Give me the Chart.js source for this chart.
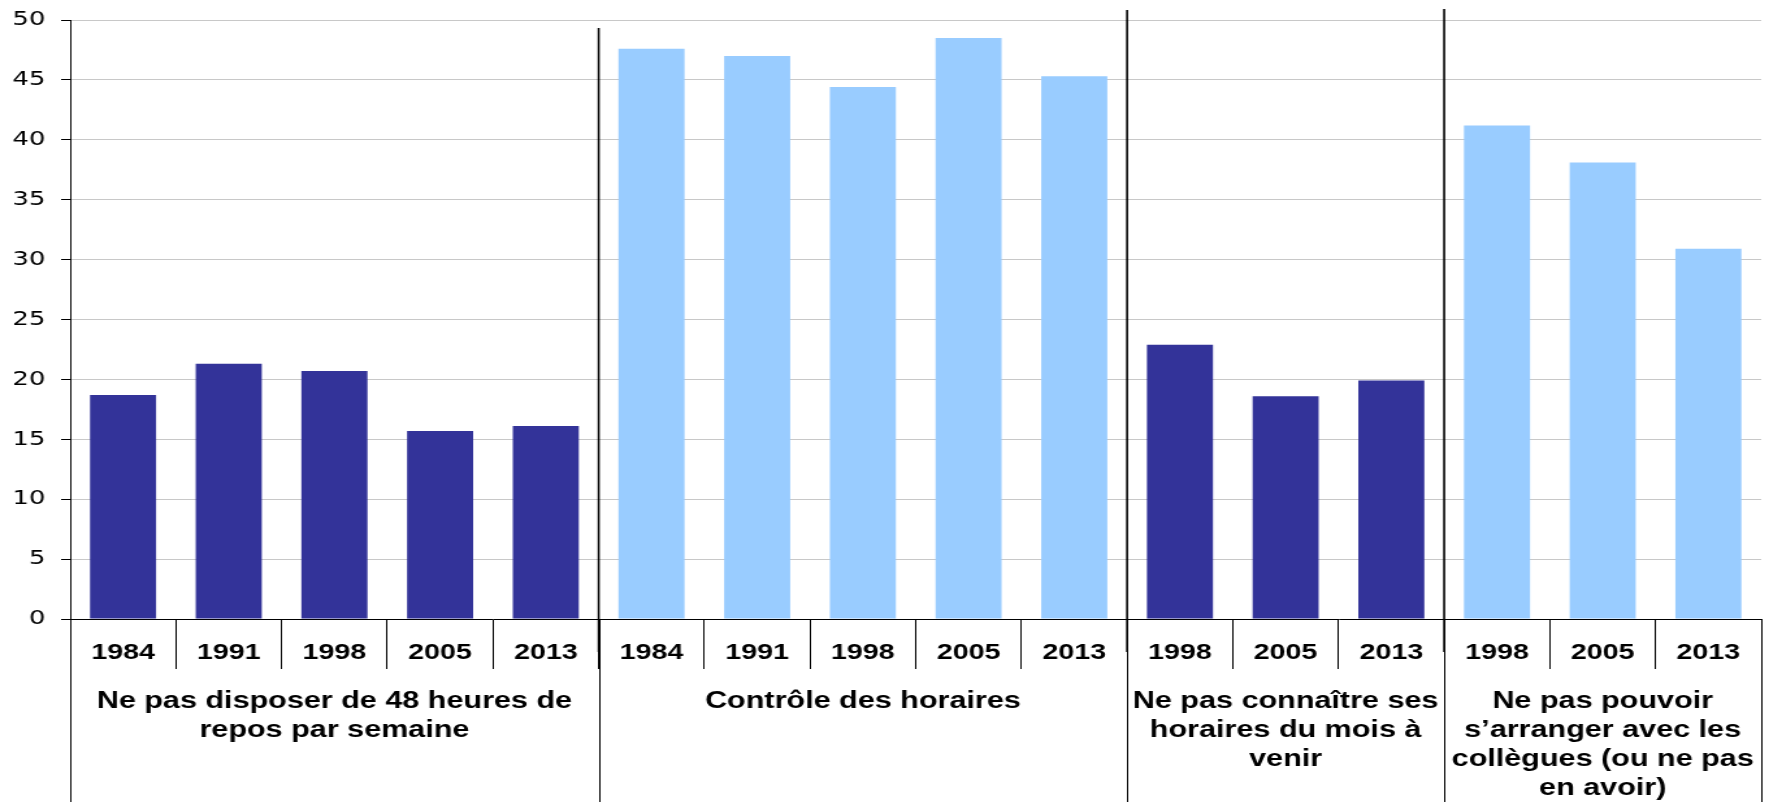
<!DOCTYPE html>
<html lang="fr">
<head>
<meta charset="utf-8">
<title>Horaires</title>
<script src="https://cdn.jsdelivr.net/npm/chart.js@4/dist/chart.umd.min.js"></script>
<style>
  html, body { margin: 0; padding: 0; background: #fff; overflow: hidden; }
  /* the reference is stretched horizontally, so the chart is drawn narrow and widened */
  #wrap { width: 1361px; height: 802px; transform: scaleX(1.2998); transform-origin: 0 0; }
</style>
</head>
<body>
<div id="wrap"><canvas id="chart"></canvas></div>
<script>
// -------------------------------------------------------------
// DATA
// -------------------------------------------------------------
const groupLabels = [
  ["Ne pas disposer de 48 heures de", "repos par semaine"],
  ["Contrôle des horaires"],
  ["Ne pas connaître ses", "horaires du mois à", "venir"],
  ["Ne pas pouvoir", "s’arranger avec les", "collègues (ou ne pas", "en avoir)"]
];
const yearsRepos = ["1984", "1991", "1998", "2005", "2013"];
const yearsControle = ["1984", "1991", "1998", "2005", "2013"];
const yearsMois = ["1998", "2005", "2013"];
const yearsCollegues = ["1998", "2005", "2013"];

const repos48h = [18.7, 21.3, 20.7, 15.7, 16.1];
const controleHoraires = [47.6, 47.0, 44.4, 48.5, 45.3];
const horairesMois = [22.9, 18.6, 19.9];
const arrangerCollegues = [41.2, 38.1, 30.9];

const yMin = 0, yMax = 50, yStep = 5;

const NAVY = "#333399";
const LIGHT = "#99CCFF";

// -------------------------------------------------------------
// BUILD
// -------------------------------------------------------------
const groups = [
  { years: yearsRepos, values: repos48h, color: NAVY },
  { years: yearsControle, values: controleHoraires, color: LIGHT },
  { years: yearsMois, values: horairesMois, color: NAVY },
  { years: yearsCollegues, values: arrangerCollegues, color: LIGHT }
];
const labels = groups.flatMap(g => g.years);
const values = groups.flatMap(g => g.values);
const colors = groups.flatMap(g => g.years.map(() => g.color));
const groupSizes = groups.map(g => g.years.length);

// -------------------------------------------------------------
// GROUP DIVIDERS + GROUP LABELS
// -------------------------------------------------------------
const groupPlugin = {
  id: "groups",
  afterDraw(chart) {
    const { ctx, chartArea, scales: { x } } = chart;
    const n = labels.length;
    const edge = i => {
      if (i === 0) return chartArea.left;
      if (i === n) return chartArea.right;
      return (x.getPixelForValue(i - 1) + x.getPixelForValue(i)) / 2;
    };
    const bounds = [0];
    groupSizes.forEach(s => bounds.push(bounds[bounds.length - 1] + s));
    const dividerTops = [28, 10, 9];

    ctx.save();
    // thin lines under the axis, down to the bottom
    ctx.strokeStyle = "#000";
    ctx.lineWidth = 1;
    bounds.forEach(b => {
      const px = Math.round(edge(b)) + 0.5;
      ctx.beginPath();
      ctx.moveTo(px, chartArea.bottom);
      ctx.lineTo(px, chart.height);
      ctx.stroke();
    });
    // thick dividers between groups
    ctx.lineWidth = 1.6;
    bounds.slice(1, -1).forEach((b, i) => {
      const px = edge(b);
      ctx.beginPath();
      ctx.moveTo(px, dividerTops[i]);
      ctx.lineTo(px, chartArea.bottom + 33);
      ctx.stroke();
    });
    // group labels
    ctx.fillStyle = "#000";
    ctx.font = "bold 23.5px 'Liberation Sans', Arial, sans-serif";
    ctx.textAlign = "center";
    ctx.textBaseline = "middle";
    groupLabels.forEach((lines, g) => {
      const cx = (edge(bounds[g]) + edge(bounds[g + 1])) / 2;
      lines.forEach((line, k) => ctx.fillText(line, cx, 702 + k * 29));
    });
    ctx.restore();
  }
};

// -------------------------------------------------------------
// CHART
// -------------------------------------------------------------
new Chart(document.getElementById("chart"), {
  type: "bar",
  data: {
    labels,
    datasets: [{
      data: values,
      backgroundColor: colors,
      borderWidth: 0,
      categoryPercentage: 1,
      barPercentage: 0.625
    }]
  },
  options: {
    responsive: true,
    maintainAspectRatio: false,
    animation: false,
    layout: { padding: { top: 20, right: 6, left: 0, bottom: 0 } },
    plugins: { legend: { display: false }, tooltip: { enabled: false } },
    scales: {
      x: {
        offset: true,
        grid: {
          offset: true,
          drawOnChartArea: false,
          drawTicks: true,
          tickLength: 50,
          tickColor: "#000",
          lineWidth: 1
        },
        border: { color: "#000", width: 1 },
        ticks: {
          color: "#000",
          padding: -29,
          maxRotation: 0,
          autoSkip: false,
          font: { family: "'Liberation Sans', Arial, sans-serif", size: 22, weight: "bold" }
        },
        afterFit(scale) { scale.height = 183; }
      },
      y: {
        min: yMin,
        max: yMax,
        grid: { color: "#c8c8c8", lineWidth: 1, tickColor: "#000", tickLength: 7 },
        border: { color: "#000", width: 1 },
        ticks: {
          stepSize: yStep,
          color: "#000",
          padding: 12,
          font: { family: "'DejaVu Sans', sans-serif", size: 20 }
        },
        afterFit(scale) {
          scale.width = 54;
          scale.paddingTop = 0;
          scale.paddingBottom = 0;
        }
      }
    }
  },
  plugins: [groupPlugin]
});
</script>
</body>
</html>
